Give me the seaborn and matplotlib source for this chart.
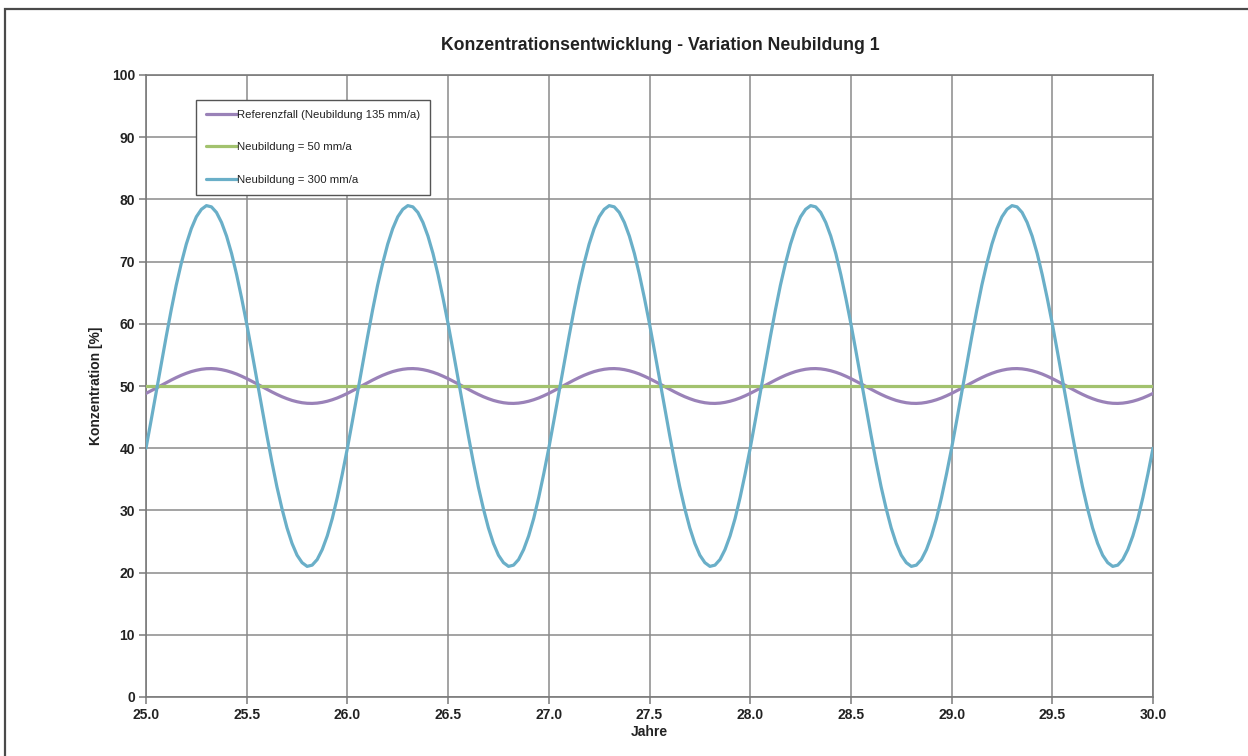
import numpy as np
import matplotlib
matplotlib.use("Agg")
import matplotlib.pyplot as plt
from matplotlib.patches import Rectangle
from matplotlib.ticker import MultipleLocator, FormatStrFormatter
import seaborn as sns

# Zeitachse in Jahren (Schrittweite 0.025 a)
jahre = np.round(np.arange(25.0, 30.0 + 1e-9, 0.025), 3)

# Referenzfall (Neubildung 135 mm/a)
referenzfall = [
    48.81, 49.22, 49.65, 50.09, 50.52, 50.95, 51.35, 51.72, 52.04, 52.32, 52.53, 52.69, 52.78, 52.80, 52.75, 52.63, 52.45, 52.21, 51.92, 51.57,
    51.19, 50.78, 50.35, 49.91, 49.48, 49.05, 48.65, 48.28, 47.96, 47.68, 47.47, 47.31, 47.22, 47.20, 47.25, 47.37, 47.55, 47.79, 48.08, 48.43,
    48.81, 49.22, 49.65, 50.09, 50.52, 50.95, 51.35, 51.72, 52.04, 52.32, 52.53, 52.69, 52.78, 52.80, 52.75, 52.63, 52.45, 52.21, 51.92, 51.57,
    51.19, 50.78, 50.35, 49.91, 49.48, 49.05, 48.65, 48.28, 47.96, 47.68, 47.47, 47.31, 47.22, 47.20, 47.25, 47.37, 47.55, 47.79, 48.08, 48.43,
    48.81, 49.22, 49.65, 50.09, 50.52, 50.95, 51.35, 51.72, 52.04, 52.32, 52.53, 52.69, 52.78, 52.80, 52.75, 52.63, 52.45, 52.21, 51.92, 51.57,
    51.19, 50.78, 50.35, 49.91, 49.48, 49.05, 48.65, 48.28, 47.96, 47.68, 47.47, 47.31, 47.22, 47.20, 47.25, 47.37, 47.55, 47.79, 48.08, 48.43,
    48.81, 49.22, 49.65, 50.09, 50.52, 50.95, 51.35, 51.72, 52.04, 52.32, 52.53, 52.69, 52.78, 52.80, 52.75, 52.63, 52.45, 52.21, 51.92, 51.57,
    51.19, 50.78, 50.35, 49.91, 49.48, 49.05, 48.65, 48.28, 47.96, 47.68, 47.47, 47.31, 47.22, 47.20, 47.25, 47.37, 47.55, 47.79, 48.08, 48.43,
    48.81, 49.22, 49.65, 50.09, 50.52, 50.95, 51.35, 51.72, 52.04, 52.32, 52.53, 52.69, 52.78, 52.80, 52.75, 52.63, 52.45, 52.21, 51.92, 51.57,
    51.19, 50.78, 50.35, 49.91, 49.48, 49.05, 48.65, 48.28, 47.96, 47.68, 47.47, 47.31, 47.22, 47.20, 47.25, 47.37, 47.55, 47.79, 48.08, 48.43,
    48.81,
]

# Neubildung = 50 mm/a
neubildung_50 = [50.0] * len(jahre)

# Neubildung = 300 mm/a
neubildung_300 = [
    40.0, 44.4, 48.9, 53.5, 57.9, 62.2, 66.2, 69.7, 72.8, 75.3, 77.2, 78.4, 79.0, 78.8, 77.9, 76.3, 74.1, 71.3, 67.9, 64.1,
    60.0, 55.6, 51.1, 46.5, 42.1, 37.8, 33.8, 30.3, 27.2, 24.7, 22.8, 21.6, 21.0, 21.2, 22.1, 23.7, 25.9, 28.7, 32.1, 35.9,
    40.0, 44.4, 48.9, 53.5, 57.9, 62.2, 66.2, 69.7, 72.8, 75.3, 77.2, 78.4, 79.0, 78.8, 77.9, 76.3, 74.1, 71.3, 67.9, 64.1,
    60.0, 55.6, 51.1, 46.5, 42.1, 37.8, 33.8, 30.3, 27.2, 24.7, 22.8, 21.6, 21.0, 21.2, 22.1, 23.7, 25.9, 28.7, 32.1, 35.9,
    40.0, 44.4, 48.9, 53.5, 57.9, 62.2, 66.2, 69.7, 72.8, 75.3, 77.2, 78.4, 79.0, 78.8, 77.9, 76.3, 74.1, 71.3, 67.9, 64.1,
    60.0, 55.6, 51.1, 46.5, 42.1, 37.8, 33.8, 30.3, 27.2, 24.7, 22.8, 21.6, 21.0, 21.2, 22.1, 23.7, 25.9, 28.7, 32.1, 35.9,
    40.0, 44.4, 48.9, 53.5, 57.9, 62.2, 66.2, 69.7, 72.8, 75.3, 77.2, 78.4, 79.0, 78.8, 77.9, 76.3, 74.1, 71.3, 67.9, 64.1,
    60.0, 55.6, 51.1, 46.5, 42.1, 37.8, 33.8, 30.3, 27.2, 24.7, 22.8, 21.6, 21.0, 21.2, 22.1, 23.7, 25.9, 28.7, 32.1, 35.9,
    40.0, 44.4, 48.9, 53.5, 57.9, 62.2, 66.2, 69.7, 72.8, 75.3, 77.2, 78.4, 79.0, 78.8, 77.9, 76.3, 74.1, 71.3, 67.9, 64.1,
    60.0, 55.6, 51.1, 46.5, 42.1, 37.8, 33.8, 30.3, 27.2, 24.7, 22.8, 21.6, 21.0, 21.2, 22.1, 23.7, 25.9, 28.7, 32.1, 35.9,
    40.0,
]

serien = [
    ("Referenzfall (Neubildung 135 mm/a)", referenzfall, "#9a82b8"),
    ("Neubildung = 50 mm/a", neubildung_50, "#a2c26e"),
    ("Neubildung = 300 mm/a", neubildung_300, "#6aafc8"),
]

sns.set_theme(style="white")
plt.rcParams["font.family"] = ["Liberation Sans", "DejaVu Sans"]

fig = plt.figure(figsize=(12.48, 7.56), dpi=100)
ax = fig.add_axes([146 / 1248, 1 - 697 / 756, (1153 - 146) / 1248, (697 - 75) / 756])

for name, werte, farbe in serien:
    sns.lineplot(x=jahre, y=werte, ax=ax, color=farbe, linewidth=2.3,
                 label=name, estimator=None, sort=False, zorder=3)

ax.set_xlim(25.0, 30.0)
ax.set_ylim(0, 100)
ax.xaxis.set_major_locator(MultipleLocator(0.5))
ax.yaxis.set_major_locator(MultipleLocator(10))
ax.xaxis.set_major_formatter(FormatStrFormatter("%.1f"))
ax.grid(True, color="#8a8a8a", linewidth=1.1, zorder=0)
ax.set_axisbelow(True)
for sp in ax.spines.values():
    sp.set_color("#7a7a7a")
    sp.set_linewidth(1.2)
ax.tick_params(axis="both", which="major", direction="out", length=5, width=1.1,
               color="#7a7a7a", labelsize=10, pad=3, labelcolor="#222222",
               left=True, bottom=True)
for lab in ax.get_xticklabels() + ax.get_yticklabels():
    lab.set_fontweight("bold")

ax.set_xlabel("Jahre", fontsize=10, fontweight="bold", color="#222222", labelpad=2)
ax.set_ylabel("Konzentration [%]", fontsize=10, fontweight="bold", color="#222222", labelpad=6)
fig.text(660 / 1248, 1 - 45 / 756, "Konzentrationsentwicklung - Variation Neubildung 1",
         ha="center", va="center", fontsize=12.7, fontweight="bold", color="#222222")

leg = ax.legend(loc="upper left", bbox_to_anchor=((196 - 146) / 1007, (697 - 100) / 622),
                fontsize=8.2, frameon=True, fancybox=False, handlelength=2.7,
                handletextpad=0.0, labelspacing=1.95, borderpad=0.9, borderaxespad=0)
leg.get_frame().set_edgecolor("#555555")
leg.get_frame().set_linewidth(1.0)
leg.get_frame().set_facecolor("white")
leg.get_frame().set_alpha(1)
for t in leg.get_texts():
    t.set_color("#222222")

# Rahmen um die gesamte Grafik
fig.patches.append(Rectangle((4.5 / 1248, -0.1), 1.2, 1.1 - 8.5 / 756,
                             transform=fig.transFigure, fill=False,
                             edgecolor="#4a4a4a", linewidth=1.6))

fig.savefig("out.png", dpi=100, facecolor="white")
